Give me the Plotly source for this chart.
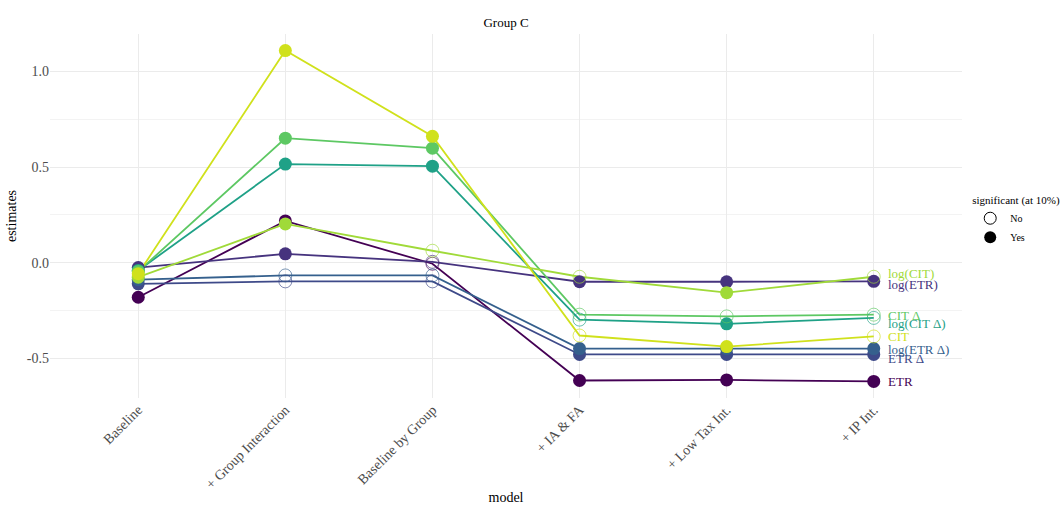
import plotly.graph_objects as go

models = ["Baseline", "+ Group Interaction", "Baseline by Group", "+ IA & FA", "+ Low Tax Int.", "+ IP Int."]

series = ["ETR", "log(ETR)", "ETR Δ", "log(ETR Δ)", "log(CIT Δ)", "CIT Δ", "log(CIT)", "CIT"]
colors = ["#440154", "#46337E", "#3E4A89", "#35608D", "#1FA187", "#5DC863", "#A0DA39", "#D0E11C"]

etr          = [-0.180, 0.219, -0.005, -0.615, -0.612, -0.620]
log_etr      = [-0.025, 0.047, 0.005, -0.099, -0.099, -0.097]
etr_d        = [-0.110, -0.097, -0.097, -0.479, -0.479, -0.479]
log_etr_d    = [-0.088, -0.066, -0.066, -0.448, -0.448, -0.448]
log_cit_d    = [-0.040, 0.516, 0.505, -0.297, -0.319, -0.288]
cit_d        = [-0.045, 0.651, 0.599, -0.271, -0.280, -0.271]
log_cit      = [-0.075, 0.203, 0.063, -0.073, -0.156, -0.073]
cit          = [-0.057, 1.109, 0.661, -0.380, -0.438, -0.385]
values = [etr, log_etr, etr_d, log_etr_d, log_cit_d, cit_d, log_cit, cit]

# significance (1 = Yes, 0 = No)
sig_etr       = [1, 1, 0, 1, 1, 1]
sig_log_etr   = [1, 1, 0, 1, 1, 1]
sig_etr_d     = [1, 0, 0, 1, 1, 1]
sig_log_etr_d = [1, 0, 0, 1, 1, 1]
sig_log_cit_d = [1, 1, 1, 0, 1, 0]
sig_cit_d     = [1, 1, 1, 0, 0, 0]
sig_log_cit   = [1, 1, 0, 0, 1, 0]
sig_cit       = [1, 1, 1, 0, 1, 0]
sigs = [sig_etr, sig_log_etr, sig_etr_d, sig_log_etr_d, sig_log_cit_d, sig_cit_d, sig_log_cit, sig_cit]

# pixel offsets for end labels (repel-like)
label_shift = [0, -3, -4, -1, -6, -1, 3, 0]

FONT = "Liberation Serif"


def rgba(hexc, a):
    h = hexc.lstrip("#")
    r, g, b = int(h[0:2], 16), int(h[2:4], 16), int(h[4:6], 16)
    return f"rgba({r},{g},{b},{a})"


fig = go.Figure()
for name, col, vals, sg in zip(series, colors, values, sigs):
    fig.add_trace(go.Scatter(
        x=models, y=vals, mode="lines", name=name, showlegend=False,
        line=dict(color=col, width=1.8), hoverinfo="skip"))
for name, col, vals, sg in zip(series, colors, values, sigs):
    fig.add_trace(go.Scatter(
        x=models, y=vals, mode="markers", name=name, showlegend=False,
        marker=dict(
            opacity=1,
            size=13,
            symbol=["circle" if s else "circle-open" for s in sg],
            color=[col if s else rgba(col, 0.65) for s in sg],
            line=dict(width=[0 if s else 1 for s in sg],
                      color=[col if s else rgba(col, 0.65) for s in sg]),
        )))

# legend dummies
fig.add_trace(go.Scatter(x=[None], y=[None], mode="markers", name="No",
                         marker=dict(symbol="circle-open", size=12, color="black", opacity=1,
                                     line=dict(width=1, color="black"))))
fig.add_trace(go.Scatter(x=[None], y=[None], mode="markers", name="Yes",
                         marker=dict(symbol="circle", size=12, color="black", opacity=1)))

for name, col, vals, sh in zip(series, colors, values, label_shift):
    fig.add_annotation(x=models[-1], y=vals[-1], text=name, showarrow=False,
                       xanchor="left", yanchor="middle", xshift=12, yshift=sh,
                       font=dict(family=FONT, size=13, color=col))

fig.update_layout(
    width=1063, height=505,
    margin=dict(l=50, r=101, t=34, b=107, autoexpand=False),
    paper_bgcolor="white", plot_bgcolor="white",
    font=dict(family=FONT, size=13, color="#4d4d4d"),
    title=dict(text="Group C", x=(50 + 912 / 2) / 1063, xanchor="center", y=1 - 22 / 505, yanchor="middle",
               font=dict(family=FONT, size=13, color="black")),
    legend=dict(title=dict(text="significant (at 10%)", font=dict(family=FONT, size=11, color="black")),
                font=dict(family=FONT, size=10, color="black"),
                x=1.009, xanchor="left", y=0.573, yanchor="top",
                itemwidth=30, tracegroupgap=0, bgcolor="rgba(0,0,0,0)"),
    showlegend=True,
)
fig.update_xaxes(
    type="category", categoryorder="array", categoryarray=models, automargin=False,
    range=[-0.6, 5.6], tickangle=-45, showgrid=True, gridcolor="#EBEBEB", gridwidth=1,
    zeroline=False, showline=False, ticks="", tickfont=dict(family=FONT, size=14, color="#4d4d4d"),
    title=dict(text="model", font=dict(family=FONT, size=14, color="black"), standoff=8),
)
fig.update_yaxes(
    range=[-0.7065, 1.1955], tickmode="array", tickvals=[-0.5, 0.0, 0.5, 1.0], automargin=False,
    ticktext=["-0.5", "0.0", "0.5", "1.0"],
    showgrid=True, gridcolor="#EBEBEB", gridwidth=1, zeroline=False, showline=False, ticks="",
    minor=dict(tickvals=[-0.25, 0.25, 0.75], showgrid=True, gridcolor="#F3F3F3", gridwidth=0.6),
    tickfont=dict(family=FONT, size=14, color="#4d4d4d"),
    title=dict(text="estimates", font=dict(family=FONT, size=14, color="black"), standoff=6),
)

fig.write_html("out.html")
